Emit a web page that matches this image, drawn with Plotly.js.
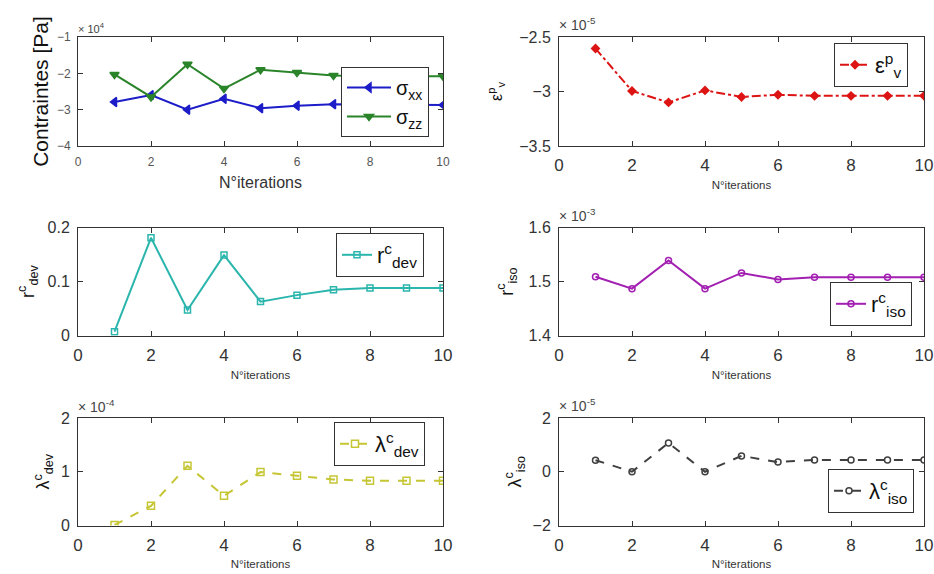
<!DOCTYPE html>
<html>
<head>
<meta charset="utf-8">
<script src="https://cdn.plot.ly/plotly-3.0.1.min.js"></script>
<style>html,body{margin:0;padding:0;background:#fff}#chart{width:934px;height:574px}</style>
</head>
<body>
<div id="chart"></div>
<script>
// ---- data ----
const iterations = [1,2,3,4,5,6,7,8,9,10];
const sigmaXX   = [-2.79,-2.60,-3.00,-2.70,-2.96,-2.89,-2.85,-2.85,-2.85,-2.87];   // x 1e4 Pa
const sigmaZZ   = [-2.03,-2.65,-1.75,-2.42,-1.90,-1.98,-2.06,-2.08,-2.08,-2.08];   // x 1e4 Pa
const epsVp     = [-2.606,-2.995,-3.10,-2.99,-3.05,-3.03,-3.04,-3.04,-3.04,-3.04]; // x 1e-5
const rDev      = [0.0074,0.181,0.0475,0.149,0.063,0.075,0.085,0.088,0.088,0.088];
const rIso      = [1.509,1.487,1.539,1.487,1.516,1.504,1.508,1.508,1.508,1.508];    // x 1e-3
const lambdaDev = [0.01,0.366,1.11,0.553,0.994,0.925,0.857,0.832,0.832,0.832];      // x 1e-4
const lambdaIso = [0.43,0.0,1.07,0.0,0.59,0.36,0.44,0.44,0.44,0.44];                // x 1e-5

const xTitle = "N°iterations";
const W = 934, H = 574;
const FONT = "Liberation Sans, Arial, sans-serif";

function px(x){ return x / W; }
function py(y){ return 1 - y / H; }

function line(x, y, name, color, dash, symbol, msize, xa, ya, leg){
  return {x:x, y:y, name:name, type:'scatter', mode:'lines+markers',
    xaxis:xa, yaxis:ya, legend:leg,
    line:{color:color, width:2, dash:dash},
    marker:{symbol:symbol, size:msize, color:color, line:{color:color, width:1.5}}};
}

const traces = [
  line(iterations, sigmaXX, "σ<sub>xx</sub>", "#1c1cc8", "solid", "triangle-left", 8, 'x', 'y', 'legend'),
  line(iterations, sigmaZZ, "σ<sub>zz</sub>", "#2a842a", "solid", "triangle-down", 8, 'x', 'y', 'legend'),
  line(iterations, epsVp, "ε<sup>p</sup><sub>v</sub>", "#dd1414", "dashdot", "diamond", 6, 'x2', 'y2', 'legend2'),
  line(iterations, rDev, "r<sup>c</sup><sub>dev</sub>", "#2ab5ad", "solid", "square-open", 6, 'x3', 'y3', 'legend3'),
  line(iterations, rIso, "r<sup>c</sup><sub>iso</sub>", "#a21fb2", "solid", "circle-open", 6, 'x4', 'y4', 'legend4'),
  line(iterations, lambdaDev, "λ<sup>c</sup><sub>dev</sub>", "#c6c634", "dash", "square-open", 7, 'x5', 'y5', 'legend5'),
  line(iterations, lambdaIso, "λ<sup>c</sup><sub>iso</sub>", "#404040", "dash", "circle-open", 6, 'x6', 'y6', 'legend6')
];

const colL = [px(78), px(443)], colR = [px(559), px(924)];
const row1 = [py(146), py(37)], row2 = [py(335.7), py(227.5)], row3 = [py(525.5), py(418)];

function xax(domain, anchor, big){
  return {domain:domain, anchor:anchor, range:[0,10], dtick:2, tick0:0,
    ticks:'inside', ticklen:5, tickcolor:'#333', mirror:'ticks', showline:true, linecolor:'#333', linewidth:1,
    showgrid:false, zeroline:false, ticklabelstandoff: big?5:4,
    tickfont:{family:FONT, size: big?12:17, color: big?'#555':'#333'},
    title:{text:xTitle, font:{family:FONT, size: big?16:11.5, color:'#333'}, standoff: big?8:6}};
}
function yax(domain, anchor, range, dtick, title, tsize, standoff, big){
  return {domain:domain, anchor:anchor, range:range, dtick:dtick, tick0:range[0],
    ticks:'inside', ticklen:5, tickcolor:'#333', mirror:'ticks', showline:true, linecolor:'#333', linewidth:1,
    showgrid:false, zeroline:false, ticklabelstandoff: 4,
    tickfont:{family:FONT, size: big?12:16, color: big?'#555':'#333'},
    title:{text:title, font:{family:FONT, size:tsize, color:'#111'}, standoff:standoff}};
}
function legend(x0, y0, x1, y1, fs, iw){
  return {x:px(x1), y:py(y0), xanchor:'right', yanchor:'top', bgcolor:'#fff',
    bordercolor:'#333', borderwidth:1, font:{family:FONT, size:fs, color:'#111'},
    itemwidth:iw, tracegroupgap:0};
}
function expo(x, y, t, fs){
  return {xref:'paper', yref:'paper', x:px(x), y:py(y), xanchor:'left', yanchor:'bottom',
    text:"× 10<sup>"+t+"</sup>", showarrow:false, font:{family:FONT, size:fs, color:'#444'}};
}

const layout = {
  width:W, height:H, margin:{l:0,r:0,t:0,b:0}, paper_bgcolor:'#fff', plot_bgcolor:'#fff',
  showlegend:true,
  xaxis: xax(colL,'y',true),
  yaxis: yax(row1,'x',[-4,-1],1,"Contraintes [Pa]",21,2,true),
  xaxis2: xax(colR,'y2',false),
  yaxis2: yax(row1,'x2',[-3.5,-2.5],0.5,"ε<sup>p</sup><sub>v</sub>",16,12,false),
  xaxis3: xax(colL,'y3',false),
  yaxis3: yax(row2,'x3',[0,0.2],0.1,"r<sup>c</sup><sub>dev</sub>",18,8,false),
  xaxis4: xax(colR,'y4',false),
  yaxis4: yax(row2,'x4',[1.4,1.6],0.1,"r<sup>c</sup><sub>iso</sub>",18,10,false),
  xaxis5: xax(colL,'y5',false),
  yaxis5: yax(row3,'x5',[0,2],1,"λ<sup>c</sup><sub>dev</sub>",18,6,false),
  xaxis6: xax(colR,'y6',false),
  yaxis6: yax(row3,'x6',[-2,2],2,"λ<sup>c</sup><sub>iso</sub>",18,6,false),
  legend:  legend(342,67,429,136,20,44),
  legend2: legend(831,43,908,93,22,30),
  legend3: legend(332,233,424,283,22,30),
  legend4: legend(825,282,912,333,22,30),
  legend5: legend(329,422,425,472,22,30),
  legend6: legend(823,469,914,521,22,30),
  annotations:[
    expo(76,37,"4",11),
    expo(557,35,"-5",14),
    expo(557,226,"-3",14),
    expo(76,417,"-4",14),
    expo(557,416,"-5",14)
  ]
};

Plotly.newPlot('chart', traces, layout, {displayModeBar:false, staticPlot:true});
</script>
</body>
</html>
